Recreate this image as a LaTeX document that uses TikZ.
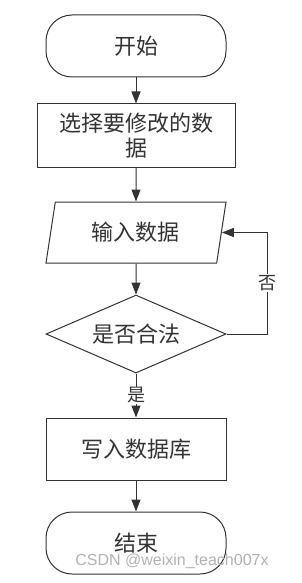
\documentclass[tikz,border=0pt]{standalone}
\usepackage{fontspec}
\newfontfamily\cjk{Noto Sans CJK SC}
\setsansfont{Liberation Sans}
\usetikzlibrary{arrows.meta,positioning,shapes.geometric}
\definecolor{ink}{HTML}{333333}
\begin{document}
\begin{tikzpicture}[
  x=1pt, y=1pt,
  >={Triangle[length=12pt,width=9pt]},
  every node/.style={font=\cjk\fontsize{22}{25}\selectfont, text=ink},
  term/.style={draw=ink, line width=1pt, rounded corners=26pt,
               minimum width=180pt, minimum height=62pt},
  proc/.style={draw=ink, line width=1pt, align=center,
               minimum width=180pt, minimum height=62pt},
  io/.style={trapezium, trapezium left angle=71, trapezium right angle=109,
             trapezium stretches body, draw=ink, line width=1pt,
             minimum width=180pt, minimum height=61pt},
  dec/.style={diamond, aspect=2.3, inner sep=0pt, draw=ink, line width=1pt,
              minimum width=180pt, minimum height=78pt},
  lbl/.style={fill=white, inner sep=1pt, font=\cjk\fontsize{18}{20}\selectfont},
  flow/.style={->, draw=ink, line width=1pt},
]
\useasboundingbox (0,0) rectangle (302,-583);

\node[term] (start) at (136,-46) {开始};
\node[proc, minimum width=198pt, minimum height=63pt, below=26pt of start] (pick)
  {选择要修改的数\\据};
\node[io, below=34pt of pick] (input) {输入数据};
\node[dec, below=31pt of input] (check) {是否合法};
\node[proc, below=44pt of check] (save) {写入数据库};
\node[term, below=31pt of save] (stop) {结束};
\coordinate[right=41pt of check.east] (back);

\draw[flow] (start) -- (pick);
\draw[flow] (pick) -- (input);
\draw[flow] (input) -- (check);
\draw[flow] (check) -- node[lbl] {是} (save);
\draw[flow] (save) -- (stop);
\draw[flow] (check.east) -- (back) |- node[lbl, pos=0.25] {否} (input.east);

% watermark
\node[font=\sffamily\fontsize{16}{16}\selectfont, text=black!30] (wm) at (172,-561)
  {CSDN @weixin\_teach007x};
\end{tikzpicture}
\end{document}
